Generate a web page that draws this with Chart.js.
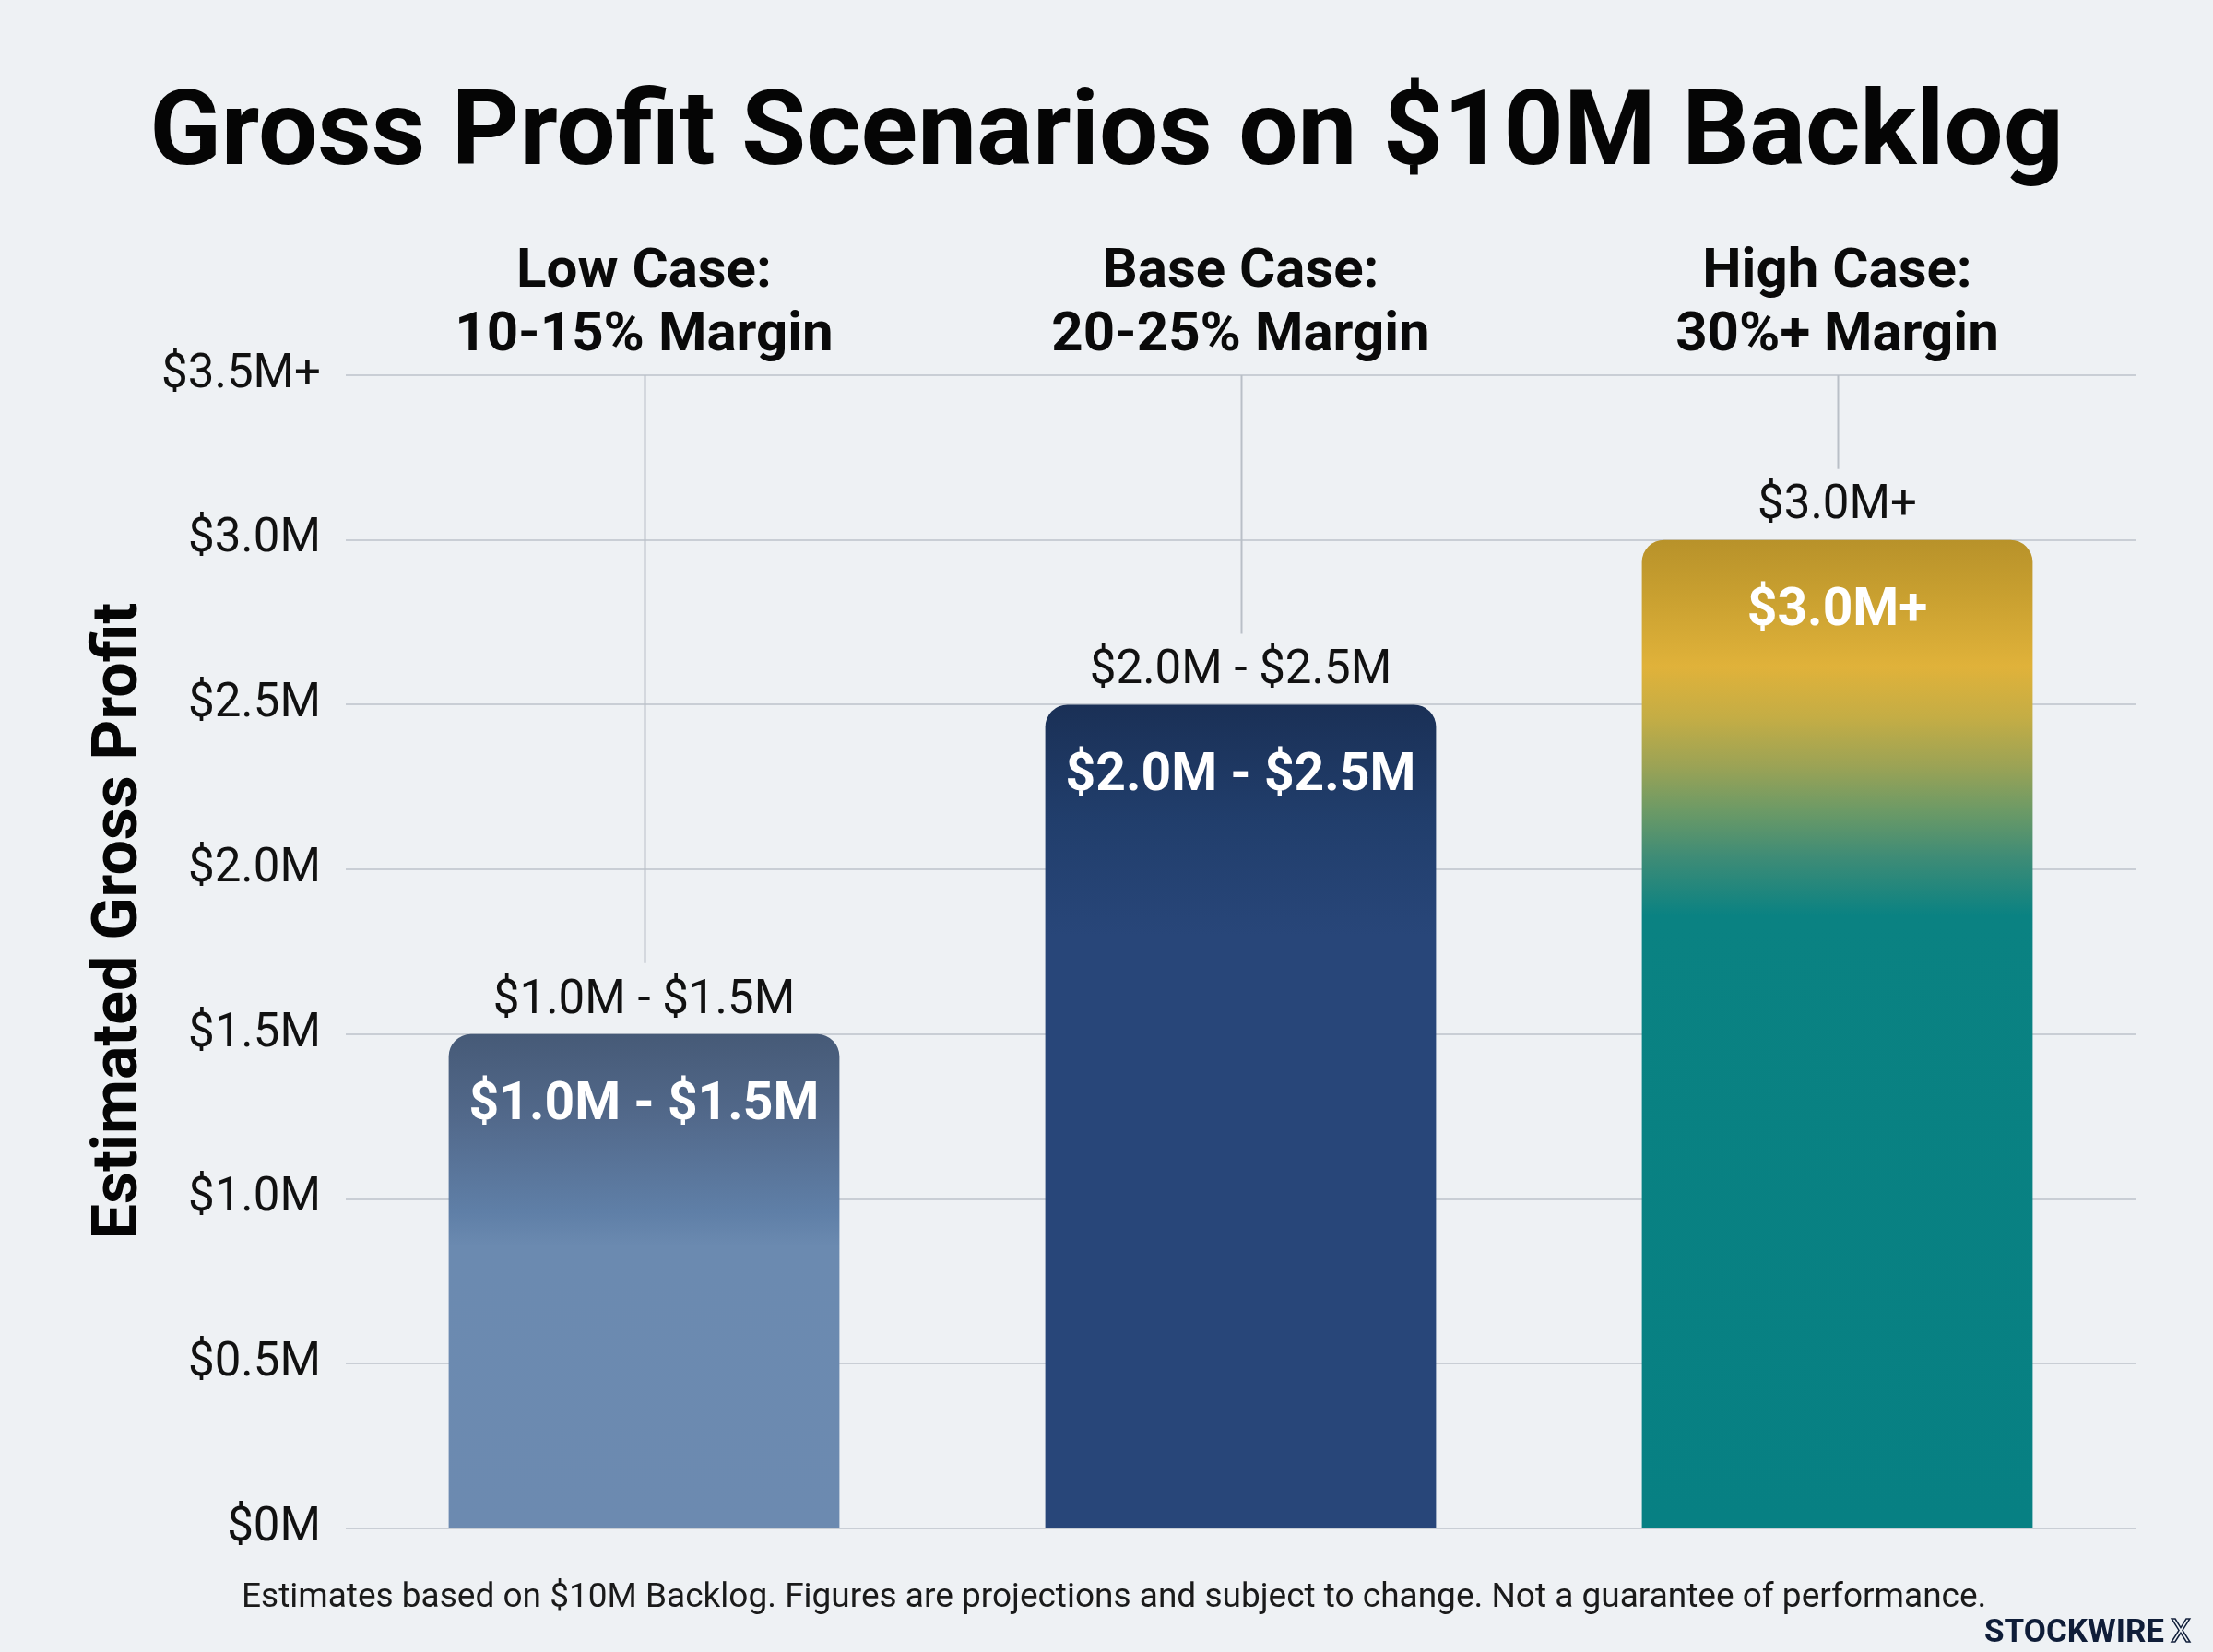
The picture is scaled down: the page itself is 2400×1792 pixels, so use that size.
<!DOCTYPE html>
<html><head><meta charset="utf-8">
<script src="https://cdn.jsdelivr.net/npm/chart.js@4.4.1/dist/chart.umd.min.js"></script>
<style>html,body{margin:0;padding:0;background:#eef1f4;} canvas{display:block}</style>
</head><body>
<canvas id="c" width="2400" height="1792" style="width:2400px;height:1792px"></canvas>
<script>
// ---- data ----
const categories = [['Low Case:', '10-15% Margin'], ['Base Case:', '20-25% Margin'], ['High Case:', '30%+ Margin']];
const values = [1.5, 2.5, 3.0];
const topLabels = ['$1.0M - $1.5M', '$2.0M - $2.5M', '$3.0M+'];
const innerLabels = ['$1.0M - $1.5M', '$2.0M - $2.5M', '$3.0M+'];
const tickLabels = ['$0M', '$0.5M', '$1.0M', '$1.5M', '$2.0M', '$2.5M', '$3.0M', '$3.5M+'];
const titleText = 'Gross Profit Scenarios on $10M Backlog';
const yTitleText = 'Estimated Gross Profit';
const footnoteText = 'Estimates based on $10M Backlog. Figures are projections and subject to change. Not a guarantee of performance.';
const brandText = 'STOCKWIRE';
const brandMark = 'X';

// ---- styles ----
const FONT = 'Roboto, "Liberation Sans", Arial, sans-serif';
const palettes = [
  [[0, '#465a77'], [0.17, '#52698b'], [0.36, '#5f7fa7'], [0.43, '#6b8ab0'], [1, '#6c8ab0']],
  [[0, '#1a3056'], [0.14, '#213e6c'], [0.28, '#284679'], [1, '#284679']],
  [[0, '#b8922a'], [0.057, '#c9a030'], [0.128, '#e0b23a'], [0.18, '#c4ad45'], [0.228, '#9ca355'], [0.274, '#6c9a66'], [0.32, '#3f8c76'], [0.38, '#0a8282'], [1, '#078083']]
];

function barFill(ctx) {
  const chart = ctx.chart;
  const ys = chart.scales && chart.scales.y;
  if (!chart.chartArea || !ys) return palettes[ctx.dataIndex][0][1];
  const i = ctx.dataIndex;
  const top = ys.getPixelForValue(values[i]);
  const bot = ys.getPixelForValue(0);
  const g = chart.ctx.createLinearGradient(0, top, 0, bot);
  palettes[i].forEach(([o, c]) => g.addColorStop(o, c));
  return g;
}

const decor = {
  id: 'decor',
  beforeDraw(chart) {
    const c = chart.ctx;
    c.save();
    c.fillStyle = '#eef1f4';
    c.fillRect(0, 0, chart.width, chart.height);
    c.restore();
  },
  beforeDatasetsDraw(chart) {
    const c = chart.ctx;
    const meta = chart.getDatasetMeta(0);
    c.save();
    c.strokeStyle = '#b9bfc7';
    c.lineWidth = 2;
    meta.data.forEach((bar) => {
      c.beginPath();
      c.moveTo(Math.round(bar.x) + 0.5, chart.chartArea.top);
      c.lineTo(Math.round(bar.x) + 0.5, bar.y - 77);
      c.stroke();
    });
    c.restore();
  },
  afterDatasetsDraw(chart) {
    const c = chart.ctx;
    const meta = chart.getDatasetMeta(0);
    c.save();
    c.textAlign = 'center';
    c.textBaseline = 'middle';
    meta.data.forEach((bar, i) => {
      c.fillStyle = '#111111';
      c.font = '51px ' + FONT;
      c.fillText(topLabels[i], bar.x, bar.y - 36);
      c.fillStyle = '#ffffff';
      c.font = 'bold 57px ' + FONT;
      c.fillText(innerLabels[i], bar.x, bar.y + 78);
    });
    c.restore();
  },
  afterDraw(chart) {
    const c = chart.ctx;
    c.save();
    // title
    c.fillStyle = '#050505';
    c.textAlign = 'center';
    c.textBaseline = 'alphabetic';
    c.font = 'bold 114px ' + FONT;
    c.fillText(titleText, 1200, 178);
    // y-axis title
    c.save();
    c.translate(131, 999);
    c.rotate(-Math.PI / 2);
    c.textBaseline = 'middle';
    c.font = 'bold 68px ' + FONT;
    c.fillText(yTitleText, 0, 0);
    c.restore();
    // footnote
    c.fillStyle = '#1a1a1a';
    c.font = '37px ' + FONT;
    c.textAlign = 'left';
    c.fillText(footnoteText, 262, 1743);
    // brand
    c.fillStyle = '#0f1d38';
    c.font = 'bold 35px ' + FONT;
    c.textAlign = 'right';
    c.fillText(brandText, 2347, 1781);
    c.strokeStyle = '#0f1d38';
    c.lineWidth = 1.5;
    c.textAlign = 'left';
    c.font = '35px ' + FONT;
    c.strokeText(brandMark, 2354, 1781);
    c.restore();
  }
};

new Chart(document.getElementById('c'), {
  type: 'bar',
  data: {
    labels: categories,
    datasets: [{
      data: values,
      backgroundColor: barFill,
      borderRadius: { topLeft: 24, topRight: 24, bottomLeft: 0, bottomRight: 0 },
      borderSkipped: false,
      categoryPercentage: 1,
      barPercentage: 0.655
    }]
  },
  options: {
    responsive: false,
    devicePixelRatio: 1,
    animation: false,
    layout: { padding: { top: 0, left: 0, right: 84, bottom: 134 } },
    plugins: { legend: { display: false }, tooltip: { enabled: false }, title: { display: false } },
    scales: {
      x: {
        position: 'top',
        grid: { display: false, drawTicks: false },
        border: { display: false },
        ticks: {
          color: '#0a0a0a',
          font: { family: FONT, size: 60, weight: 'bold', lineHeight: 1.15 },
          padding: 8,
          maxRotation: 0,
          autoSkip: false
        },
        afterFit(scale) { scale.height = 407; }
      },
      y: {
        min: 0, max: 3.5,
        grid: { color: '#c9ced5', lineWidth: 2, drawTicks: false },
        border: { display: false },
        ticks: {
          stepSize: 0.5,
          color: '#111111',
          font: { family: FONT, size: 51 },
          padding: 27,
          callback: (v, i) => tickLabels[i]
        },
        afterFit(scale) { scale.width = 375; }
      }
    }
  },
  plugins: [decor]
});
</script>
</body></html>
